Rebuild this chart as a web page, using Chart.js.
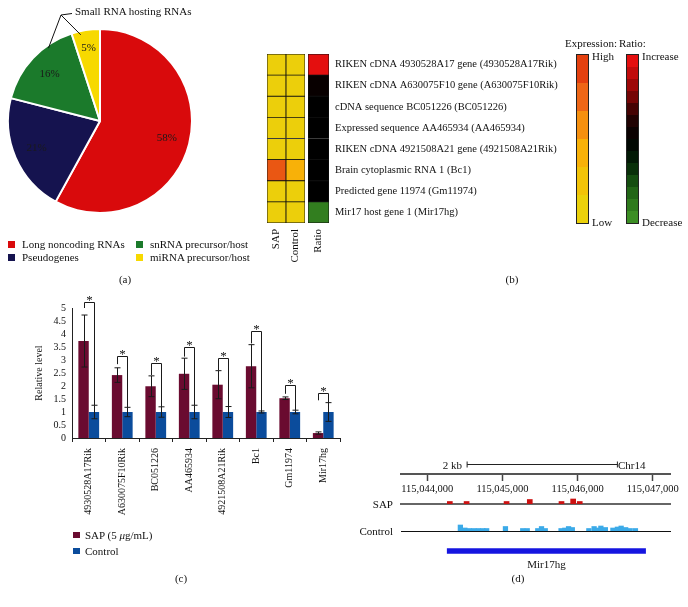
<!DOCTYPE html>
<html>
<head>
<meta charset="utf-8">
<script src="https://cdn.jsdelivr.net/npm/chart.js@4.4.0/dist/chart.umd.min.js"></script>
<style>
  html, body { margin: 0; padding: 0; background: #fff; }
  body { width: 688px; height: 607px; position: relative; overflow: hidden;
         font-family: "Liberation Serif", "DejaVu Serif", serif; color: #111; }
  canvas { position: absolute; }
  .t { position: absolute; white-space: nowrap; font-size: 11px; line-height: 1; }
  .sw { position: absolute; width: 7px; height: 7px; }
  .bar { position: absolute; border: 1px solid #222; box-sizing: border-box; }
</style>
</head>
<body>
<script>
// ---- (a) pie ----
const pieLabels = ["Long noncoding RNAs", "Pseudogenes", "snRNA precursor/host", "miRNA precursor/host"];
const pieValues = [58, 21, 16, 5];
const pieColors = ["#D90A0C", "#15134F", "#1B7A2B", "#F7D900"];

// ---- (b) heatmap ----
const genes = [
  "RIKEN cDNA 4930528A17 gene (4930528A17Rik)",
  "RIKEN cDNA A630075F10 gene (A630075F10Rik)",
  "cDNA sequence BC051226 (BC051226)",
  "Expressed sequence AA465934 (AA465934)",
  "RIKEN cDNA 4921508A21 gene (4921508A21Rik)",
  "Brain cytoplasmic RNA 1 (Bc1)",
  "Predicted gene 11974 (Gm11974)",
  "Mir17 host gene 1 (Mir17hg)"
];
const sapExpr = [0.03, 0.03, 0.03, 0.03, 0.03, 0.88, 0.03, 0.03];
const ctlExpr = [0.03, 0.03, 0.03, 0.03, 0.03, 0.40, 0.03, 0.03];
const ratioScore = [1.0, 0.06, 0, 0, 0, 0, 0, -0.88];

// ---- (c) qPCR bars ----
const geneShort = ["4930528A17Rik", "A630075F10Rik", "BC051226", "AA465934", "4921508A21Rik", "Bc1", "Gm11974", "Mir17hg"];
const sapMean = [3.73, 2.42, 1.99, 2.47, 2.05, 2.76, 1.53, 0.19];
const sapErr = [1.0, 0.28, 0.40, 0.60, 0.54, 0.83, 0.05, 0.045];
const ctlMean = [1, 1, 1, 1, 1, 1, 1, 1];
const ctlErr = [0.26, 0.18, 0.20, 0.26, 0.21, 0.04, 0.07, 0.36];
const bracketTop = [5.22, 3.15, 2.89, 3.49, 3.06, 4.10, 2.05, 1.74];
const bracketLeg = [5.0, 2.84, 2.42, 3.13, 2.61, 3.64, 1.70, 1.45];

// ---- (d) genome track (chr14) ----
const chrStart = 115043650, chrEnd = 115047230;
const chrTicks = [115044000, 115045000, 115046000, 115047000];
const scaleBar = [115044530, 115046530];
const geneSpan = [115044265, 115046905];
const peakBase = 115044000;
const sapPeakPos = [300, 523, 1055, 1364, 1786, 1941, 2029];
const sapPeakHeight = [2.5, 2.5, 2.5, 4.5, 2.5, 5, 2.5];
const ctlPeakPos = [440, 500, 560, 620, 680, 740, 790, 1040, 1270, 1330, 1470, 1520, 1570,
  1780, 1830, 1880, 1930, 2150, 2220, 2270, 2310, 2370, 2470, 2530, 2580, 2640, 2700, 2770];
const ctlPeakHeight = [6, 3, 2.5, 2.5, 2.5, 2.5, 2.5, 4.5, 2.5, 2.5, 2.5, 4.5, 2.5,
  2.5, 3, 4.5, 3.5, 2.5, 4.5, 3, 5, 3.5, 3, 4, 5, 3.5, 2.5, 2.5];

Chart.defaults.font.family = '"Liberation Serif", "DejaVu Serif", serif';
Chart.defaults.color = "#111";
Chart.defaults.animation = false;
Chart.defaults.plugins.legend.display = false;
Chart.defaults.plugins.tooltip.enabled = false;

const makeCanvas = (left, top, w, h) => {
  const c = document.createElement("canvas");
  c.width = w; c.height = h;
  c.style.left = left + "px"; c.style.top = top + "px";
  c.style.width = w + "px"; c.style.height = h + "px";
  document.body.appendChild(c);
  return c;
};

const addText = (html, x, y, align = "left", size = 11) => {
  const d = document.createElement("div");
  d.className = "t";
  d.innerHTML = html;
  d.style.fontSize = size + "px";
  d.style.left = x + "px";
  d.style.top = y + "px";
  const tx = align === "center" ? "-50%" : align === "right" ? "-100%" : "0";
  d.style.transform = `translate(${tx}, -50%)`;
  document.body.appendChild(d);
};

const addSwatch = (x, y, color, size = 7) => {
  const s = document.createElement("div");
  s.className = "sw";
  s.style.left = x + "px"; s.style.top = (y - size / 2) + "px";
  s.style.width = size + "px"; s.style.height = size + "px";
  s.style.background = color;
  document.body.appendChild(s);
};

const hexToRgb = (h) => [1, 3, 5].map((i) => parseInt(h.slice(i, i + 2), 16));
const rampColor = (stops, v) => {
  if (v <= stops[0][0]) return stops[0][1];
  for (let i = 1; i < stops.length; i++) {
    if (v <= stops[i][0]) {
      const t = (v - stops[i - 1][0]) / (stops[i][0] - stops[i - 1][0]);
      const a = hexToRgb(stops[i - 1][1]), b = hexToRgb(stops[i][1]);
      const c = a.map((x, k) => Math.round(x + (b[k] - x) * t));
      return `rgb(${c[0]},${c[1]},${c[2]})`;
    }
  }
  return stops[stops.length - 1][1];
};
const expStops = [[0, "#EBD10B"], [0.35, "#F8B806"], [0.55, "#F89A0C"], [0.75, "#F07018"], [1, "#E4400F"]];
const ratioStops = [[-1, "#3C8E24"], [-0.6, "#1A5A12"], [-0.3, "#032006"], [0, "#000000"],
  [0.3, "#2A0202"], [0.6, "#880606"], [1, "#E40F0F"]];
const expColor = (v) => rampColor(expStops, v);
const ratioColor = (v) => rampColor(ratioStops, v);

// ================= (a) =================
const pieLabelPlugin = {
  id: "pieLabels",
  afterDatasetsDraw(chart) {
    const ctx = chart.ctx;
    const arcs = chart.getDatasetMeta(0).data;
    ctx.save();
    ctx.font = '11px "Liberation Serif"';
    ctx.fillStyle = "#1a1a1a";
    ctx.textAlign = "center";
    ctx.textBaseline = "middle";
    arcs.forEach((arc, i) => {
      const p = arc.getProps(["x", "y", "startAngle", "endAngle", "outerRadius"]);
      const mid = (p.startAngle + p.endAngle) / 2;
      const r = p.outerRadius * (i === 3 ? 0.8 : 0.75);
      ctx.fillText(pieValues[i] + "%", p.x + Math.cos(mid) * r, p.y + Math.sin(mid) * r);
    });
    // leader lines for small RNA hosting slices
    const apex = { x: 61, y: 15 };
    ctx.strokeStyle = "#111";
    ctx.lineWidth = 1;
    ctx.beginPath();
    [[2, 0.7, 0.97], [3, 0.3, 0.96]].forEach(([i, f, rf]) => {
      const p = arcs[i].getProps(["x", "y", "startAngle", "endAngle", "outerRadius"]);
      const a = p.startAngle + (p.endAngle - p.startAngle) * f;
      ctx.moveTo(apex.x, apex.y);
      ctx.lineTo(p.x + Math.cos(a) * p.outerRadius * rf, p.y + Math.sin(a) * p.outerRadius * rf);
    });
    ctx.moveTo(apex.x, apex.y);
    ctx.lineTo(72, 13.5);
    ctx.stroke();
    ctx.restore();
  }
};

new Chart(makeCanvas(0, 0, 200, 242), {
  type: "pie",
  data: {
    labels: pieLabels,
    datasets: [{ data: pieValues, backgroundColor: pieColors, borderColor: "#fff", borderWidth: 2, radius: 92 }]
  },
  options: { responsive: false, layout: { padding: 0 } },
  plugins: [pieLabelPlugin]
});

addText("Small RNA hosting RNAs", 75, 11);
pieLabels.forEach((lab, i) => {
  const col = i < 2 ? 0 : 1, row = i % 2;
  const x = col === 0 ? 8 : 136;
  const y = 244 + row * 13;
  addSwatch(x, y, pieColors[i]);
  addText(lab, x + 14, y);
});
addText("(a)", 125, 279, "center");

// ================= (b) =================
const cellStyle = { borderColor: "#111", borderWidth: 0.8, borderSkipped: false,
  categoryPercentage: 1, barPercentage: 1 };
const colAxis = {
  stacked: true,
  grid: { display: false, drawTicks: false },
  border: { display: false },
  ticks: { minRotation: 90, maxRotation: 90, padding: 6, font: { size: 11 }, color: "#111" },
  afterFit: (s) => { s.height = 47; s.paddingLeft = 0; s.paddingRight = 0; }
};

new Chart(makeCanvas(262, 50, 48, 220), {
  type: "bar",
  data: {
    labels: ["SAP", "Control"],
    datasets: genes.map((g, i) => ({
      label: g, data: [1, 1],
      backgroundColor: [expColor(sapExpr[i]), expColor(ctlExpr[i])],
      ...cellStyle
    })).reverse()
  },
  options: {
    responsive: false,
    layout: { padding: { left: 5, right: 5, top: 4 } },
    scales: { x: colAxis, y: { stacked: true, display: false, min: 0, max: genes.length } }
  }
});

new Chart(makeCanvas(304, 50, 265, 220), {
  type: "bar",
  data: {
    labels: ["Ratio"],
    datasets: genes.map((g, i) => ({
      label: g, data: [1],
      backgroundColor: ratioColor(ratioScore[i]),
      ...cellStyle
    })).reverse()
  },
  options: {
    responsive: false,
    layout: { padding: { left: 4, top: 4 } },
    scales: {
      x: colAxis,
      y: { stacked: true, display: false, min: 0, max: genes.length },
      yg: {
        type: "category", labels: genes, position: "right", offset: true,
        grid: { display: false, drawTicks: false }, border: { display: false },
        ticks: { padding: 6, autoSkip: false, font: { size: 10.5 }, color: "#111" },
        afterFit: (s) => { s.width = 240; s.paddingTop = 0; s.paddingBottom = 0; }
      }
    }
  }
});

// colour keys
const makeKey = (x, steps, colorFn, from, to) => {
  const box = document.createElement("div");
  box.className = "bar";
  box.style.left = x + "px"; box.style.top = "54px";
  box.style.width = "13px"; box.style.height = "170px";
  const cols = [];
  for (let k = 0; k < steps; k++) cols.push(colorFn(from + (to - from) * k / (steps - 1)));
  const parts = cols.map((c, k) => `${c} ${(k * 100 / steps).toFixed(2)}% ${((k + 1) * 100 / steps).toFixed(2)}%`);
  box.style.background = `linear-gradient(to bottom, ${parts.join(", ")})`;
  document.body.appendChild(box);
};
makeKey(576, 6, expColor, 1, 0);
makeKey(626, 14, ratioColor, 1, -1);
addText("Expression:", 565, 43);
addText("Ratio:", 619, 43);
addText("High", 592, 56);
addText("Low", 592, 222);
addText("Increase", 642, 56);
addText("Decrease", 642, 222);
addText("(b)", 512, 279, "center");

// ================= (c) =================
const errorBarPlugin = {
  id: "errorBars",
  afterDatasetsDraw(chart) {
    const { ctx, scales: { y } } = chart;
    ctx.save();
    ctx.strokeStyle = "#1a1a1a";
    ctx.lineWidth = 1;
    [[sapMean, sapErr], [ctlMean, ctlErr]].forEach(([m, e], d) => {
      chart.getDatasetMeta(d).data.forEach((bar, j) => {
        const x = Math.round(bar.x) + 0.5;
        const yt = y.getPixelForValue(m[j] + e[j]);
        const yb = y.getPixelForValue(m[j] - e[j]);
        ctx.beginPath();
        ctx.moveTo(x, yt); ctx.lineTo(x, yb);
        ctx.moveTo(x - 3, yt); ctx.lineTo(x + 3, yt);
        ctx.moveTo(x - 3, yb); ctx.lineTo(x + 3, yb);
        ctx.stroke();
      });
    });
    const sapBars = chart.getDatasetMeta(0).data;
    const ctlBars = chart.getDatasetMeta(1).data;
    ctx.font = '13px "Liberation Serif"';
    ctx.textAlign = "center";
    ctx.textBaseline = "alphabetic";
    ctx.fillStyle = "#111";
    bracketTop.forEach((t, j) => {
      const xl = Math.round(sapBars[j].x) + 0.5;
      const xr = Math.round(ctlBars[j].x) + 0.5;
      const yt = Math.round(y.getPixelForValue(t)) + 0.5;
      ctx.beginPath();
      ctx.moveTo(xl, y.getPixelForValue(bracketLeg[j]));
      ctx.lineTo(xl, yt);
      ctx.lineTo(xr, yt);
      ctx.lineTo(xr, y.getPixelForValue(ctlMean[j] + ctlErr[j]));
      ctx.stroke();
      ctx.fillText("*", (xl + xr) / 2, yt + 1);
    });
    ctx.restore();
  }
};

const sapColor = "#6A0B30";
const ctlColor = "#0B4C9C";

new Chart(makeCanvas(0, 280, 345, 250), {
  type: "bar",
  data: {
    labels: geneShort,
    datasets: [
      { label: "SAP (5 μg/mL)", data: sapMean, backgroundColor: sapColor },
      { label: "Control", data: ctlMean, backgroundColor: ctlColor }
    ]
  },
  options: {
    responsive: false,
    layout: { padding: { top: 28, right: 5, left: 0 } },
    datasets: { bar: { categoryPercentage: 0.62, barPercentage: 1 } },
    scales: {
      x: {
        grid: { display: true, drawOnChartArea: false, drawTicks: true, tickLength: 4, color: "#222", offset: true },
        border: { display: true, color: "#222", width: 1 },
        ticks: { autoSkip: false, minRotation: 90, maxRotation: 90, padding: 6, font: { size: 10 }, color: "#111" },
        afterFit: (s) => { s.height = 92; }
      },
      y: {
        min: 0, max: 5,
        ticks: { stepSize: 0.5, autoSkip: false, padding: 6, font: { size: 10 }, color: "#111",
                 callback: (v) => String(Number(v)) },
        grid: { display: false, drawTicks: false },
        border: { display: true, color: "#222", width: 1 },
        title: { display: true, text: "Relative level", font: { size: 10 }, color: "#111", padding: { top: 33, bottom: 0 } },
        afterFit: (s) => { s.width = 72; }
      }
    }
  },
  plugins: [errorBarPlugin]
});

addSwatch(73, 535, sapColor, 6.5);
addText("SAP (5 <i>μ</i>g/mL)", 85, 535);
addSwatch(73, 551, ctlColor, 6.5);
addText("Control", 85, 551);
addText("(c)", 181, 578, "center");

// ================= (d) =================
const trackX = { type: "linear", min: chrStart, max: chrEnd, offset: false };

// coordinate ruler with 2 kb scale bar
new Chart(makeCanvas(380, 450, 310, 60), {
  type: "line",
  data: {
    datasets: [{
      data: scaleBar.map((x) => ({ x, y: 0 })),
      borderColor: "#222", borderWidth: 1,
      pointStyle: "line", rotation: 90, pointRadius: 3,
      pointBorderColor: "#222", pointBorderWidth: 1
    }]
  },
  options: {
    responsive: false,
    layout: { padding: { left: 21, right: 20, top: 4 } },
    scales: {
      x: {
        ...trackX,
        afterBuildTicks: (s) => { s.ticks = chrTicks.map((v) => ({ value: v })); },
        ticks: { autoSkip: false, maxRotation: 0, padding: 2, font: { size: 10.5 }, color: "#111",
                 callback: (v) => Number(v).toLocaleString("en-US") },
        grid: { drawOnChartArea: false, drawTicks: true, tickLength: 7, tickColor: "#444", tickWidth: 1.5 },
        border: { display: true, color: "#555", width: 2 },
        afterFit: (s) => { s.height = 36; }
      },
      y: { display: false, min: -1, max: 1 }
    }
  }
});
addText("2 kb", 462, 465, "right");
addText("Chr14", 618, 465);

const trackChart = (top, pos, height, color, lineColor, lineWidth, thickness) => new Chart(makeCanvas(380, top, 310, 16), {
  type: "bar",
  data: {
    datasets: [{
      data: pos.map((p, i) => ({ x: peakBase + p, y: height[i] })),
      backgroundColor: color, barThickness: thickness
    }]
  },
  options: {
    responsive: false,
    layout: { padding: { left: 21, right: 20, top: 0, bottom: 4 } },
    scales: {
      x: { ...trackX, ticks: { display: false }, grid: { display: false, drawTicks: false },
           border: { display: true, color: lineColor, width: lineWidth },
           afterFit: (s) => { s.height = 0; } },
      y: { display: false, min: 0, max: 12 }
    }
  }
});
trackChart(492, sapPeakPos, sapPeakHeight, "#CC1111", "#666", 2, 5);
trackChart(519, ctlPeakPos, ctlPeakHeight, "#3BAAE8", "#111", 1, 4.6);
addText("SAP", 393, 504, "right");
addText("Control", 393, 531, "right");

const geneLabelPlugin = {
  id: "geneLabel",
  afterDatasetsDraw(chart) {
    const { ctx, scales: { x }, chartArea } = chart;
    ctx.save();
    ctx.font = '11px "Liberation Serif"';
    ctx.fillStyle = "#111";
    ctx.textAlign = "center";
    ctx.textBaseline = "middle";
    ctx.fillText("Mir17hg", (x.getPixelForValue(geneSpan[0]) + x.getPixelForValue(geneSpan[1])) / 2, chartArea.bottom + 8);
    ctx.restore();
  }
};
new Chart(makeCanvas(380, 541, 310, 30), {
  type: "bar",
  data: {
    labels: ["Mir17hg"],
    datasets: [{ data: [geneSpan], backgroundColor: "#1515E0", barThickness: 5 }]
  },
  options: {
    responsive: false,
    indexAxis: "y",
    layout: { padding: { left: 21, right: 20, top: 4, bottom: 14 } },
    scales: {
      x: { ...trackX, display: false },
      y: { display: false }
    }
  },
  plugins: [geneLabelPlugin]
});
addText("(d)", 518, 578, "center");
</script>
</body>
</html>
